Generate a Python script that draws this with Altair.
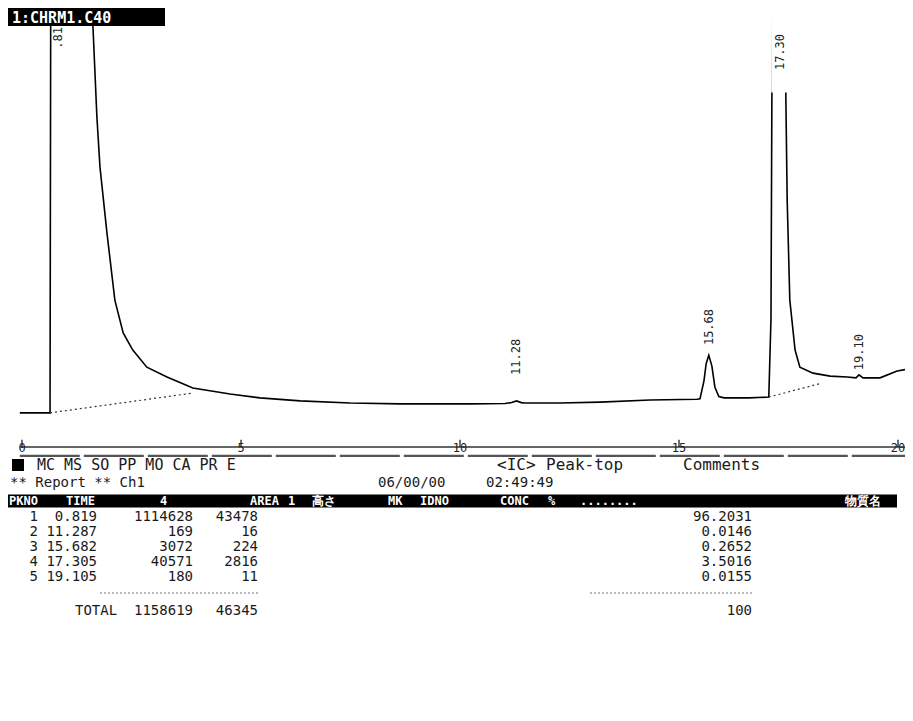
import altair as alt
import pandas as pd

# ---------------- data ----------------
# chromatogram trace: retention time (min) and detector signal (arbitrary units)
trace_t = [-0.05, 0.62, 0.64, 0.66, 1.58, 1.62, 1.71, 1.78, 1.94, 2.12, 2.31, 2.53,
           2.85, 3.31, 3.90, 4.75, 5.43, 6.35, 7.49, 8.63, 10.23, 11.03, 11.18, 11.29,
           11.40, 11.48, 12.28, 13.20, 14.34, 15.41, 15.48, 15.57, 15.62, 15.68, 15.75,
           15.82, 15.91, 16.03, 16.60, 17.05, 17.10, 17.12, 17.15, 17.30, 17.42, 17.44,
           17.47, 17.53, 17.65, 17.76, 18.06, 18.45, 18.84, 19.04, 19.11, 19.20, 19.59,
           19.98, 20.27]
trace_v = [8.0, 8.0, 8.0, 130, 130, 98.4, 77.3, 65.6, 50.1, 34.4, 26.7, 22.7,
           18.7, 16.4, 13.8, 12.4, 11.5, 10.8, 10.3, 10.1, 10.1, 10.2, 10.4, 10.8,
           10.4, 10.3, 10.3, 10.5, 11.0, 11.2, 11.3, 15.5, 19.5, 21.5, 19.0,
           14.0, 11.8, 11.5, 11.5, 11.7, 30.0, 81.0, 110, 140, 110, 81.3,
           57.8, 34.4, 22.7, 18.7, 17.3, 16.6, 16.4, 16.2, 16.9, 16.2, 16.2,
           17.8, 18.3]

# integration baselines (start/end points)
base_t1 = [0.64, 17.05]
base_v1 = [8.0, 11.7]
base_t2 = [3.88, 18.20]
base_v2 = [12.6, 14.8]

# peak-top comments
peak_labels = [".81", "11.28", "15.68", "17.30", "19.10"]

# time axis ticks
axis_ticks = [0, 5, 10, 15, 20]
axis_tick_labels = ["0", "5", "10", "15", "20"]

# report table
file_name = "1:CHRM1.C40"
pk_no = ["1", "2", "3", "4", "5"]
ret_time = [0.819, 11.287, 15.682, 17.305, 19.105]
area = [1114628, 169, 3072, 40571, 180]
peak_height = [43478, 16, 224, 2816, 11]
conc = ["96.2031", "0.0146", "0.2652", "3.5016", "0.0155"]
total_area = "1158619"
total_height = "46345"
total_conc = "100"
menu_line = "MC MS SO PP MO CA PR E"
comment_words = ["<IC>", "Peak-top", "Comments"]
report_words = ["**  Report  **  Ch1", "06/00/00", "02:49:49"]
header_words = ["PKNO", "TIME", "4", "AREA", "1", "高さ", "MK", "IDNO", "CONC", "%", "........", "物質名"]

# ---------------- layout (page pixels) ----------------
W, H = 897, 700
PAGE_TOP, PAGE_LEFT = 8, 8
T0_X, PX_PER_MIN = 22, 43.8          # time axis placement
V0_Y, PX_PER_UNIT = 447, 4.27        # signal axis placement

label_v = [95.8, 21.1, 28.1, 92.5, 22.2]
line_y = [465, 483, 501, 517, 532, 547, 562, 577, 593, 611]
comment_x = [497, 546, 683]
report_x = [10, 378, 486]
header_x = [9, 66, 160, 250, 288, 312, 388, 420, 500, 548, 580, 845]
col_right = {"pk": 38, "time": 97, "area": 193, "height": 258, "conc": 752}
menu_x = 37
total_x = 75
dotted_segments = [(100, 260), (590, 752)]

MONO = "DejaVu Sans Mono"

# ---------------- scales ----------------
t_dom = [(PAGE_LEFT - T0_X) / PX_PER_MIN, (PAGE_LEFT + W - T0_X) / PX_PER_MIN]
v_dom = [(V0_Y - (PAGE_TOP + H)) / PX_PER_UNIT, (V0_Y - PAGE_TOP) / PX_PER_UNIT]
SX = alt.Scale(domain=t_dom, nice=False, zero=False)
SY = alt.Scale(domain=v_dom, nice=False, zero=False)


def sx(f="t"):
    return alt.X(f"{f}:Q", scale=SX, axis=None)


def sy(f="v"):
    return alt.Y(f"{f}:Q", scale=SY, axis=None)


TXs = alt.Scale(domain=[PAGE_LEFT, PAGE_LEFT + W], nice=False, zero=False)
TYs = alt.Scale(domain=[PAGE_TOP, PAGE_TOP + H], nice=False, zero=False, reverse=True)


def tx(f="col"):
    return alt.X(f"{f}:Q", scale=TXs, axis=None)


def ty(f="py"):
    return alt.Y(f"{f}:Q", scale=TYs, axis=None)


# ---------------- chromatogram ----------------
trace_df = pd.DataFrame({"t": trace_t, "v": trace_v})
trace = alt.Chart(trace_df).mark_line(color="black", strokeWidth=1.6, clip=True).encode(
    x=sx(), y=sy(), order="t:Q")

base_df = pd.DataFrame({"t": base_t1, "v": base_v1, "t2": base_t2, "v2": base_v2})
baselines = alt.Chart(base_df).mark_rule(color="#333", strokeWidth=1.2, strokeDash=[2, 3]).encode(
    x=sx(), y=sy(), x2="t2:Q", y2="v2:Q")

lab_df = pd.DataFrame({"t": ret_time, "v": label_v, "label": peak_labels})
mask = alt.Chart(lab_df).transform_filter(alt.datum.label == "17.30").transform_calculate(
    t1="datum.t - 0.2", t2="datum.t + 0.2", v1="datum.v - 9.5", v2="200").mark_rect(
    color="white", clip=True).encode(x=sx("t1"), x2="t2:Q", y=sy("v1"), y2="v2:Q")
labels = alt.Chart(lab_df).mark_text(font=MONO, fontSize=12, angle=270, align="center",
                                     baseline="middle", color="#222").encode(
    x=sx(), y=sy(), text="label:N")

ruler_df = pd.DataFrame({"t": [-0.05], "t2": [t_dom[1]], "v": [0.0], "vb": [-2.1]})
ruler = alt.Chart(ruler_df).mark_rule(color="#333", strokeWidth=1.5).encode(
    x=sx(), x2="t2:Q", y=sy())
ruler2 = alt.Chart(ruler_df).mark_rule(color="#555", strokeWidth=2.2, strokeDash=[60, 4]).encode(
    x=sx(), x2="t2:Q", y=sy("vb"))

tick_df = pd.DataFrame({"t": axis_ticks, "lab": axis_tick_labels})
ticks = alt.Chart(tick_df).transform_calculate(v0="0", v1="1.7").mark_rule(
    color="#222", strokeWidth=1.3).encode(x=sx(), y=sy("v0"), y2="v1:Q")
tick_labels = alt.Chart(tick_df).transform_calculate(v="-0.3").mark_text(
    font=MONO, fontSize=12, baseline="middle", align="center", color="#222").encode(
    x=sx(), y=sy(), text="lab:N")

signal = alt.layer(trace, baselines, mask, labels, ruler, ruler2, ticks, tick_labels)

# ---------------- report table ----------------
left_items = [(menu_x, line_y[0], menu_line, 15)]
left_items += [(x, line_y[0], w, 16) for x, w in zip(comment_x, comment_words)]
left_items += [(x, line_y[1], w, 14) for x, w in zip(report_x, report_words)]
left_items += [(total_x, line_y[9], "TOTAL", 14)]
left_df = pd.DataFrame(left_items, columns=["col", "py", "txt", "fs"])
left_text = alt.Chart(left_df).mark_text(font=MONO, align="left", baseline="middle",
                                         color="#1a1a1a").encode(
    x=tx(), y=ty(), text="txt:N", size=alt.Size("fs:Q", scale=None))

right_items = []
for i in range(5):
    py = line_y[3 + i]
    right_items.append((col_right["pk"], py, pk_no[i]))
    right_items.append((col_right["time"], py, f"{ret_time[i]:.3f}"))
    right_items.append((col_right["area"], py, str(area[i])))
    right_items.append((col_right["height"], py, str(peak_height[i])))
    right_items.append((col_right["conc"], py, conc[i]))
right_items += [(col_right["area"], line_y[9], total_area),
                (col_right["height"], line_y[9], total_height),
                (col_right["conc"], line_y[9], total_conc)]
right_df = pd.DataFrame(right_items, columns=["col", "py", "txt"])
right_text = alt.Chart(right_df).mark_text(font=MONO, fontSize=14, align="right",
                                           baseline="middle", color="#1a1a1a").encode(
    x=tx(), y=ty(), text="txt:N")

bar_df = pd.DataFrame({"col": [PAGE_LEFT, 12], "col2": [897, 24],
                       "py": [line_y[2] - 6.5, line_y[0] - 6], "py2": [line_y[2] + 6.5, line_y[0] + 6]})
bars = alt.Chart(bar_df).mark_rect(color="black").encode(
    x=tx(), x2="col2:Q", y=ty(), y2="py2:Q")

head_df = pd.DataFrame({"col": header_x, "py": [line_y[2]] * len(header_x), "txt": header_words})
head_text = alt.Chart(head_df).mark_text(font=MONO, fontSize=12, fontWeight="bold",
                                         align="left", baseline="middle", color="white").encode(
    x=tx(), y=ty(), text="txt:N")

dot_df = pd.DataFrame({"col": [a for a, b in dotted_segments],
                       "col2": [b for a, b in dotted_segments],
                       "py": [line_y[8]] * len(dotted_segments)})
dots = alt.Chart(dot_df).mark_rule(color="#777", strokeWidth=1.2, strokeDash=[2, 2]).encode(
    x=tx(), x2="col2:Q", y=ty())

one = pd.DataFrame({"k": [0]})
title_box = alt.Chart(one).mark_rect(color="black").encode(
    x=alt.value(0), x2=alt.value(157), y=alt.value(0), y2=alt.value(18))
title_txt = alt.Chart(one).mark_text(font=MONO, fontSize=15, fontWeight="bold", color="white",
                                     align="left", baseline="middle").encode(
    x=alt.value(4), y=alt.value(9.5), text=alt.value(file_name))

table = alt.layer(bars, head_text, left_text, right_text, dots, title_box, title_txt)

chart = alt.layer(signal, table).resolve_scale(x="independent", y="independent").properties(
    width=W, height=H, padding=0, autosize=alt.AutoSizeParams(type="none"),
    background="white").configure_view(stroke=None)

chart.save("out.html", embed_options={"renderer": "svg", "actions": False})
